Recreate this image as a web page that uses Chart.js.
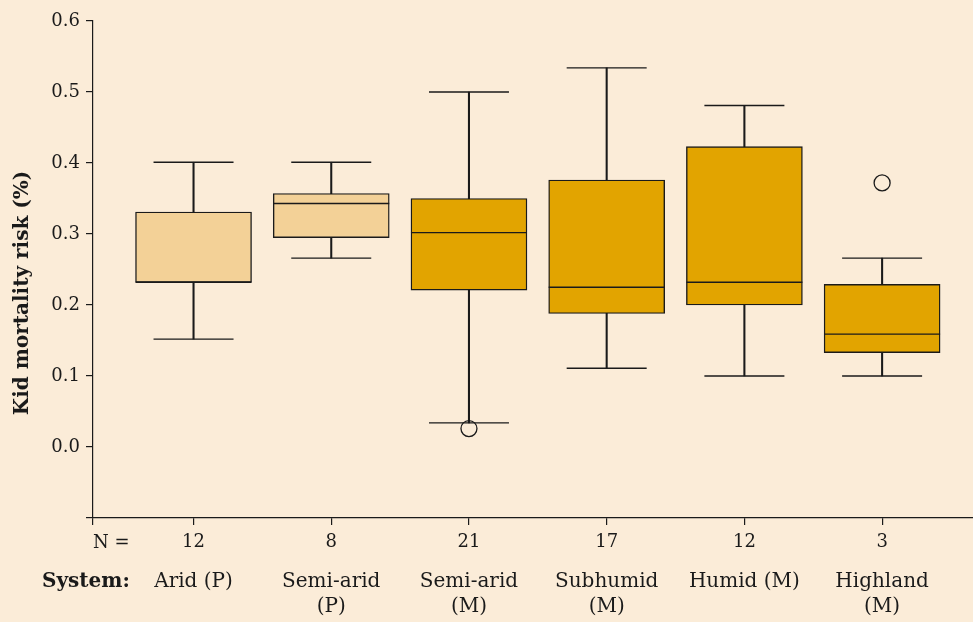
<!DOCTYPE html>
<html><head><meta charset="utf-8">
<script src="https://cdn.jsdelivr.net/npm/chart.js@4"></script>
<style>html,body{margin:0;padding:0;background:#FBECD8;}canvas{display:block;}</style>
</head><body>
<canvas id="c" width="973" height="622"></canvas>
<script>
// ---- data ----
const categories = ['Arid (P)', 'Semi-arid (P)', 'Semi-arid (M)', 'Subhumid (M)', 'Humid (M)', 'Highland (M)'];
const systemLabels = [['Arid (P)'], ['Semi-arid', '(P)'], ['Semi-arid', '(M)'], ['Subhumid', '(M)'], ['Humid (M)'], ['Highland', '(M)']];
const nValues = [12, 8, 21, 17, 12, 3];
const positions = [1, 2, 3, 4, 5, 6];
const whiskerLow = [0.152, 0.266, 0.034, 0.111, 0.100, 0.100];
const q1 = [0.232, 0.295, 0.221, 0.188, 0.200, 0.133];
const median = [0.232, 0.343, 0.302, 0.225, 0.232, 0.159];
const q3 = [0.331, 0.357, 0.350, 0.376, 0.423, 0.229];
const whiskerHigh = [0.401, 0.401, 0.500, 0.534, 0.481, 0.266];
const outliers = [[], [], [0.026], [], [], [0.372]];
const yTickValues = [-0.1, 0.0, 0.1, 0.2, 0.3, 0.4, 0.5, 0.6];

// ---- style ----
const FONT = "'DejaVu Serif', 'Liberation Serif', serif";
const ink = '#1a1a1a';
const lightFill = '#F3D197';
const darkFill = '#E2A400';
const xMin = 0.27, xMax = 6.66;
const boxColors = categories.map(c => c.includes('(P)') ? lightFill : darkFill);

const capData = [];
positions.forEach((x, i) => { capData.push({x, y: whiskerLow[i]}); capData.push({x, y: whiskerHigh[i]}); });
const outlierData = [];
positions.forEach((x, i) => outliers[i].forEach(v => outlierData.push({x, y: v})));

const textPlugin = {
  id: 'extraText',
  afterDraw(chart) {
    const ctx = chart.ctx;
    ctx.save();
    ctx.fillStyle = ink;
    ctx.textBaseline = 'middle';
    ctx.textAlign = 'left';
    ctx.font = "18px " + FONT;
    ctx.fillText('N =', 93, 543);
    ctx.font = "bold 20px " + FONT;
    ctx.fillText('System:', 42, 582);
    ctx.translate(23, 293);
    ctx.rotate(-Math.PI / 2);
    ctx.textAlign = 'center';
    ctx.fillText('Kid mortality risk (%)', 0, 0);
    ctx.restore();
  }
};

new Chart(document.getElementById('c'), {
  type: 'bar',
  data: {
    datasets: [
      { type: 'bar', label: 'whiskers', data: positions.map((x, i) => ({x, y: [whiskerLow[i], whiskerHigh[i]]})),
        backgroundColor: ink, borderWidth: 0, barThickness: 1.4, grouped: false, order: 3 },
      { type: 'bar', label: 'boxes', data: positions.map((x, i) => ({x, y: [q1[i], q3[i]]})),
        backgroundColor: boxColors, borderColor: ink, borderWidth: 1.4, borderSkipped: false,
        barThickness: 116, grouped: false, order: 2 },
      { type: 'line', label: 'medians', data: positions.map((x, i) => ({x, y: median[i]})),
        showLine: false, pointStyle: 'line', pointRadius: 58, borderColor: ink, borderWidth: 1.4, order: 1 },
      { type: 'line', label: 'caps', data: capData,
        showLine: false, pointStyle: 'line', pointRadius: 40, borderColor: ink, borderWidth: 1.4, order: 1 },
      { type: 'line', label: 'outliers', data: outlierData,
        showLine: false, pointStyle: 'circle', pointRadius: 8, backgroundColor: 'rgba(0,0,0,0)',
        borderColor: ink, borderWidth: 1.3, order: 1 }
    ]
  },
  options: {
    responsive: false,
    animation: false,
    events: [],
    layout: { autoPadding: false, padding: { top: 21, right: 0, bottom: 0, left: 0 } },
    plugins: { legend: { display: false }, tooltip: { enabled: false } },
    scales: {
      x: {
        type: 'linear', position: 'bottom', weight: 0, min: xMin, max: xMax, offset: false,
        afterBuildTicks: s => { s.ticks = [xMin, ...positions].map(v => ({value: v})); },
        afterFit: s => { s.height = 36; s.paddingLeft = 0; s.paddingRight = 0; s.paddingTop = 0; s.paddingBottom = 0; },
        grid: { offset: false, drawOnChartArea: false, drawTicks: true, tickLength: 7, color: ink, lineWidth: 1.2 },
        border: { display: true, color: ink, width: 1.2 },
        ticks: { padding: 7, autoSkip: false, maxRotation: 0, color: ink, font: { family: FONT, size: 18 },
          callback: v => { const i = positions.indexOf(v); return i < 0 ? '' : String(nValues[i]); } }
      },
      x2: {
        type: 'linear', position: 'bottom', weight: 1, min: xMin, max: xMax, offset: false,
        afterBuildTicks: s => { s.ticks = positions.map(v => ({value: v})); },
        afterFit: s => { s.height = 68; s.paddingLeft = 0; s.paddingRight = 0; s.paddingTop = 0; s.paddingBottom = 0; },
        grid: { offset: false, display: false, drawTicks: false },
        border: { display: false },
        ticks: { padding: 15.5, autoSkip: false, maxRotation: 0, color: ink,
          font: { family: FONT, size: 20, lineHeight: 1.25 },
          callback: v => { const i = positions.indexOf(v); return i < 0 ? '' : systemLabels[i]; } }
      },
      y: {
        type: 'linear', min: -0.1, max: 0.6,
        afterBuildTicks: s => { s.ticks = yTickValues.map(v => ({value: v})); },
        afterFit: s => { s.width = 93; s.paddingTop = 0; s.paddingBottom = 0; },
        grid: { drawOnChartArea: false, drawTicks: true, tickLength: 7, color: ink, lineWidth: 1.2 },
        border: { display: true, color: ink, width: 1.2 },
        ticks: { padding: 6, color: ink, font: { family: FONT, size: 18 },
          callback: v => v < -0.05 ? '' : v.toFixed(1) }
      }
    }
  },
  plugins: [textPlugin]
});
</script>
</body></html>
